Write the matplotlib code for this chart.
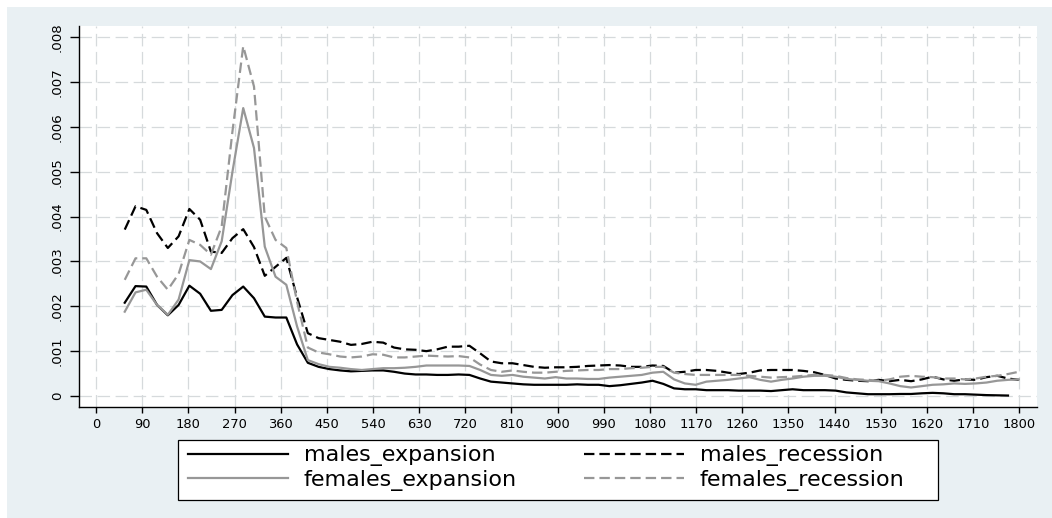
import numpy as np
import matplotlib
matplotlib.use("Agg")
import matplotlib.pyplot as plt
from matplotlib.patches import Rectangle

plt.rcParams["font.family"] = ["DejaVu Sans"]
plt.rcParams["lines.scale_dashes"] = False

# Time since entry (days), observed every three weeks
days = np.arange(56, 1800, 21)

# Hazard rates, in thousandths
males_expansion = [
    2.08, 2.45, 2.44, 2.03, 1.80, 2.03, 2.46, 2.28, 1.90, 1.92, 2.25, 2.44, 2.18, 1.77, 1.75, 1.75,
    1.15, 0.74, 0.65, 0.60, 0.57, 0.55, 0.56, 0.57, 0.57, 0.54, 0.50, 0.48, 0.48, 0.47, 0.47,
    0.48, 0.47, 0.39, 0.32, 0.30, 0.28, 0.26, 0.25, 0.25, 0.25, 0.25, 0.26, 0.25, 0.25, 0.22, 0.24, 0.27, 0.30, 0.34,
    0.27, 0.17, 0.15, 0.15, 0.13, 0.13, 0.13, 0.12, 0.12, 0.12, 0.11, 0.13, 0.15, 0.13, 0.13, 0.13, 0.12,
    0.08, 0.06, 0.04, 0.04, 0.04, 0.045, 0.045, 0.06, 0.07, 0.06, 0.04, 0.04, 0.03, 0.02, 0.015, 0.01,
]
males_recession = [
    3.71, 4.23, 4.15, 3.63, 3.30, 3.56, 4.17, 3.93, 3.22, 3.19, 3.52, 3.72, 3.32, 2.68, 2.88, 3.08,
    2.20, 1.40, 1.29, 1.25, 1.21, 1.14, 1.16, 1.21, 1.19, 1.08, 1.04, 1.03, 1.00, 1.04, 1.10,
    1.10, 1.12, 0.95, 0.77, 0.73, 0.73, 0.69, 0.65, 0.63, 0.64, 0.64, 0.65, 0.67, 0.68, 0.69, 0.68, 0.65, 0.65, 0.68,
    0.67, 0.52, 0.54, 0.58, 0.58, 0.56, 0.52, 0.49, 0.52, 0.57, 0.58, 0.58, 0.58, 0.56, 0.53, 0.47, 0.39,
    0.36, 0.34, 0.33, 0.36, 0.33, 0.36, 0.33, 0.37, 0.43, 0.37, 0.34, 0.37, 0.36, 0.42, 0.45, 0.39, 0.36,
]
females_expansion = [
    1.88, 2.31, 2.37, 2.03, 1.81, 2.15, 3.03, 3.00, 2.83, 3.45, 5.00, 6.42, 5.53, 3.33, 2.66, 2.48,
    1.55, 0.80, 0.71, 0.65, 0.63, 0.60, 0.58, 0.60, 0.62, 0.62, 0.63, 0.65, 0.68, 0.68, 0.68,
    0.68, 0.67, 0.58, 0.47, 0.45, 0.47, 0.43, 0.41, 0.39, 0.42, 0.39, 0.39, 0.38, 0.38, 0.41, 0.43, 0.45, 0.47, 0.52,
    0.54, 0.37, 0.28, 0.25, 0.32, 0.34, 0.36, 0.39, 0.42, 0.36, 0.32, 0.36, 0.39, 0.43, 0.45, 0.45, 0.43,
    0.38, 0.36, 0.34, 0.33, 0.28, 0.22, 0.19, 0.22, 0.25, 0.26, 0.28, 0.27, 0.28, 0.30, 0.34, 0.36, 0.37,
]
females_recession = [
    2.59, 3.07, 3.07, 2.66, 2.37, 2.72, 3.48, 3.37, 3.15, 3.78, 5.90, 7.80, 6.90, 4.00, 3.48, 3.30,
    2.10, 1.08, 0.97, 0.93, 0.88, 0.86, 0.88, 0.93, 0.92, 0.86, 0.86, 0.88, 0.90, 0.89, 0.88,
    0.89, 0.86, 0.70, 0.58, 0.54, 0.57, 0.54, 0.52, 0.52, 0.54, 0.56, 0.57, 0.58, 0.58, 0.60, 0.60, 0.62, 0.63, 0.65,
    0.65, 0.52, 0.49, 0.47, 0.47, 0.47, 0.47, 0.47, 0.45, 0.43, 0.41, 0.42, 0.43, 0.45, 0.47, 0.47, 0.45,
    0.40, 0.37, 0.36, 0.34, 0.37, 0.43, 0.45, 0.43, 0.42, 0.39, 0.39, 0.37, 0.39, 0.43, 0.45, 0.49, 0.54,
]

x_ticks = list(range(0, 1801, 90))
y_ticks = [0, 0.001, 0.002, 0.003, 0.004, 0.005, 0.006, 0.007, 0.008]
y_tick_labels = ["0", ".001", ".002", ".003", ".004", ".005", ".006", ".007", ".008"]

W, H = 1052, 518
fig = plt.figure(figsize=(W / 100, H / 100), dpi=100)
fig.patch.set_facecolor("white")

# graph region background
fig.patches.append(Rectangle((7 / W, 0), 1 - 7 / W, 1 - 7 / H, transform=fig.transFigure,
                             facecolor="#E9F0F3", edgecolor="none", zorder=-10))

ax = fig.add_axes([79.3 / W, 1 - 407.3 / H, (1036.7 - 79.3) / W, (407.3 - 26) / H])
ax.set_facecolor("white")

BLACK = "#000000"
GREY = "#979797"
dash = (0, (7.5, 3.6))

series = [
    ("males_expansion", males_expansion, BLACK, "-"),
    ("males_recession", males_recession, BLACK, dash),
    ("females_expansion", females_expansion, GREY, "-"),
    ("females_recession", females_recession, GREY, dash),
]
handles = {}
for name, vals, col, ls in series:
    v = np.asarray(vals) / 1000.0
    (ln,) = ax.plot(days[: len(v)], v, color=col, linestyle=ls, linewidth=1.6,
                    label=name, zorder=3)
    handles[name] = ln

ax.set_xlim(-32.6, 1834)
ax.set_ylim(-0.000252, 0.00825)
ax.set_xticks(x_ticks)
ax.set_xticklabels([str(t) for t in x_ticks])
ax.set_yticks(y_ticks)
ax.set_yticklabels(y_tick_labels, rotation=90, va="center")

ax.grid(True, color="#D6DADC", linestyle=(0, (9, 4)), linewidth=0.9, zorder=1)
ax.set_axisbelow(True)

for side in ("top", "right"):
    ax.spines[side].set_visible(False)
for side in ("left", "bottom"):
    ax.spines[side].set_linewidth(1.0)
    ax.spines[side].set_color("black")

ax.tick_params(axis="x", length=4.5, width=1.0, pad=3.5, labelsize=9.4, colors="black")
ax.tick_params(axis="y", length=6.5, width=1.0, pad=4.5, labelsize=9.6, colors="black")

# legend frame
fig.patches.append(Rectangle((178 / W, 1 - 500 / H), (938 - 178) / W, 60 / H,
                             transform=fig.transFigure, facecolor="white",
                             edgecolor="black", linewidth=0.9, zorder=1))

order = ["males_expansion", "females_expansion", "males_recession", "females_recession"]
leg = fig.legend([handles[n] for n in order], order, ncol=2,
                 loc="upper left", bbox_to_anchor=(188 / W, 1 - 445.5 / H),
                 borderaxespad=0, frameon=False, borderpad=0,
                 fontsize=16, handlelength=4.5, handletextpad=0.72,
                 columnspacing=3.0, labelspacing=0.15)
leg.set_zorder(2)

fig.savefig("out.png", dpi=100, facecolor=fig.get_facecolor())
